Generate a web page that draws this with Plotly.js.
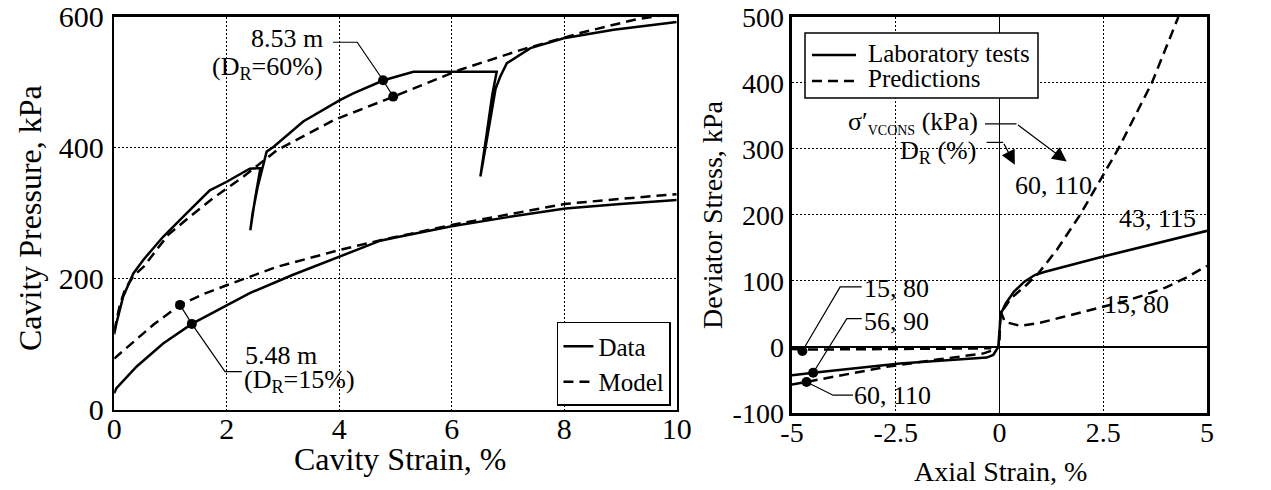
<!DOCTYPE html>
<html>
<head>
<meta charset="utf-8">
<script src="https://cdn.plot.ly/plotly-3.0.1.min.js"></script>
<style>html,body{margin:0;padding:0;background:#fff;}#chart{width:1271px;height:490px;}</style>
</head>
<body>
<div id="chart"></div>
<script>
// ---------- Left panel: cavity expansion ----------
const leftXTicks = [0, 2, 4, 6, 8, 10];
const leftYTicks = [0, 200, 400, 600];

// 8.53 m (DR = 60%) - data (with unload/reload loops)
const denseDataStrain   = [0, 0.04, 0.16, 0.34, 0.52, 0.87, 1.29, 1.70, 2.0, 2.41, 2.6, 2.5, 2.42, 2.46, 2.55, 2.64, 2.71, 2.83, 3.36, 4.02, 4.25, 4.79, 5.32, 6.80, 6.72, 6.62, 6.51, 6.56, 6.66, 6.78, 6.86, 6.98, 7.40, 7.99, 8.88, 10];
const denseDataPressure = [115, 132, 173, 208, 229, 264, 300, 335, 348, 368, 369, 320, 274, 300, 340, 372, 394, 401, 440, 473, 483, 503, 516, 516, 480, 420, 356, 380, 430, 490, 508, 529, 552, 567, 580, 592];
// 8.53 m - model
const denseModelStrain   = [0, 0.1, 0.2, 0.35, 0.52, 0.96, 1.35, 1.76, 2.30, 2.89, 3.9, 4.97, 6.15, 7.22, 8.28, 9.23, 10];
const denseModelPressure = [120, 160, 185, 205, 218, 267, 295, 323, 356, 396, 442, 478, 519, 549, 575, 595, 606];
// 5.48 m (DR = 15%) - data
const looseDataStrain   = [0, 0.04, 0.4, 0.87, 1.38, 2.0, 2.41, 3.18, 4.01, 4.73, 5.0, 6.0, 7.0, 8.02, 9.0, 10];
const looseDataPressure = [25, 33, 66, 101, 131, 160, 178, 206, 234, 258, 263, 280, 294, 307, 314, 320];
// 5.48 m - model
const looseModelStrain   = [0, 0.3, 0.7, 1.17, 1.6, 2.0, 2.89, 4.01, 4.8, 6.0, 7.0, 8.0, 9.0, 10];
const looseModelPressure = [78, 100, 130, 160, 177, 190, 218, 244, 260, 282, 298, 314, 322, 329];
// highlighted points
const leftPointStrain   = [4.78, 4.96, 1.17, 1.38];
const leftPointPressure = [503, 478, 160, 131];

// ---------- Right panel: triaxial tests ----------
const rightXTicks = [-5, -2.5, 0, 2.5, 5];
const rightXTickText = ['-5', '-2.5', '0', '2.5', '5'];
const rightYTicks = [-100, 0, 100, 200, 300, 400, 500];
const rightYTickText = ['-100', '0', '100', '200', '300', '400', '500'];

// Laboratory tests
const lab56Strain = [-5, -4.49, -2.4, -1.0, -0.31, -0.15, -0.08, -0.03];
const lab56Stress = [-43, -39, -25, -19, -16, -12, -6, 0];
const lab43Strain = [-0.03, 0, 0.03, 0.15, 0.35, 0.6, 0.85, 1.1, 2.5, 5];
const lab43Stress = [0, 25, 50, 66, 84, 99, 109, 114, 137, 176];
// Predictions
const pred15ExtStrain = [-5, -4.75, -2.5, -0.4, -0.2];
const pred15ExtStress = [-3, -4, -3, -3, -2];
const pred15CompStrain = [0.02, 0.13, 0.5, 1.0, 1.5, 2.0, 2.5, 3.0, 3.5, 4.0, 4.5, 5];
const pred15CompStress = [55, 38, 32, 37, 45, 53, 61, 69, 79, 90, 105, 123];
const pred60ExtStrain = [-5, -4.65, -2.72, -1.5, -0.4, -0.16, -0.05];
const pred60ExtStress = [-57, -53, -30, -19, -10, -5, 0];
const pred60CompStrain = [0, 0.02, 0.28, 0.65, 0.94, 1.38, 1.94, 2.86, 3.67, 4.31];
const pred60CompStress = [10, 50, 74, 94, 112, 147, 200, 300, 400, 500];
// highlighted points
const rightPointStrain = [-4.75, -4.49, -4.65];
const rightPointStress = [-6, -39, -53];

const FONT = 'Liberation Serif, Times New Roman, serif';
const solid = {color: '#000', width: 2.5};
const dashed = {color: '#000', width: 2.5, dash: '10px,6px'};

const traces = [
  {x: denseDataStrain, y: denseDataPressure, mode: 'lines', line: solid, name: 'Data', xaxis: 'x', yaxis: 'y', legend: 'legend', legendgroup: 'd'},
  {x: denseModelStrain, y: denseModelPressure, mode: 'lines', line: dashed, name: 'Model', xaxis: 'x', yaxis: 'y', legend: 'legend', legendgroup: 'm'},
  {x: looseDataStrain, y: looseDataPressure, mode: 'lines', line: solid, name: 'Data', xaxis: 'x', yaxis: 'y', showlegend: false, legendgroup: 'd'},
  {x: looseModelStrain, y: looseModelPressure, mode: 'lines', line: dashed, name: 'Model', xaxis: 'x', yaxis: 'y', showlegend: false, legendgroup: 'm'},
  {x: leftPointStrain, y: leftPointPressure, mode: 'markers', marker: {color: '#000', size: 10}, xaxis: 'x', yaxis: 'y', showlegend: false},

  {x: lab56Strain, y: lab56Stress, mode: 'lines', line: solid, name: 'Laboratory tests', xaxis: 'x2', yaxis: 'y2', showlegend: false},
  {x: lab43Strain, y: lab43Stress, mode: 'lines', line: solid, name: 'Laboratory tests', xaxis: 'x2', yaxis: 'y2', showlegend: false},
  {x: pred15ExtStrain, y: pred15ExtStress, mode: 'lines', line: dashed, name: 'Predictions', xaxis: 'x2', yaxis: 'y2', showlegend: false},
  {x: pred15CompStrain, y: pred15CompStress, mode: 'lines', line: dashed, name: 'Predictions', xaxis: 'x2', yaxis: 'y2', showlegend: false},
  {x: pred60ExtStrain, y: pred60ExtStress, mode: 'lines', line: dashed, name: 'Predictions', xaxis: 'x2', yaxis: 'y2', showlegend: false},
  {x: pred60CompStrain, y: pred60CompStress, mode: 'lines', line: dashed, name: 'Predictions', xaxis: 'x2', yaxis: 'y2', showlegend: false},
  {x: rightPointStrain, y: rightPointStress, mode: 'markers', marker: {color: '#000', size: 10}, xaxis: 'x2', yaxis: 'y2', showlegend: false}
];

const axisCommon = {
  showline: true, mirror: true, linecolor: '#000', linewidth: 2.5,
  showgrid: true, gridcolor: '#000', gridwidth: 1, griddash: '2px,2px',
  ticks: '', zeroline: false, fixedrange: true
};
const tickL = {family: FONT, size: 30, color: '#000'};
const tickR = {family: FONT, size: 28, color: '#000'};

function path(pts, xr, yr, w) {
  return {type: 'path', xref: xr, yref: yr, line: {color: '#000', width: w || 1.2},
    path: pts.map((p, i) => (i ? 'L' : 'M') + p[0] + ',' + p[1]).join(' ')};
}
// pixel helpers for legend / title placement (paper coordinates)
const W = 1271, H = 490;
const px = v => v / W, py = v => 1 - v / H;

const annFont = {family: FONT, size: 26, color: '#000'};
function txt(x, y, text, xr, yr, anchor, size) {
  return {x: x, y: y, xref: xr, yref: yr, text: text, showarrow: false,
    font: size ? {family: FONT, size: size, color: '#000'} : annFont,
    xanchor: anchor || 'center', yanchor: 'middle'};
}

const layout = {
  width: W, height: H,
  margin: {l: 0, r: 0, t: 0, b: 0},
  paper_bgcolor: '#fff', plot_bgcolor: '#fff',
  font: {family: FONT, color: '#000'},
  showlegend: true,
  xaxis: Object.assign({}, axisCommon, {domain: [0.08985, 0.53242], range: [0, 10], tickvals: leftXTicks, anchor: 'y',
    tickfont: tickL, ticklabelstandoff: -9}),
  yaxis: Object.assign({}, axisCommon, {domain: [0.16388, 0.96592], range: [0, 600], tickvals: leftYTicks, anchor: 'x',
    tickfont: tickL, ticklabelstandoff: 2}),
  xaxis2: Object.assign({}, axisCommon, {domain: [0.62313, 0.94965], range: [-5, 5], tickvals: rightXTicks, ticktext: rightXTickText, anchor: 'y2',
    tickfont: tickR, ticklabelstandoff: -7, zeroline: true, zerolinecolor: '#000', zerolinewidth: 1.2}),
  yaxis2: Object.assign({}, axisCommon, {domain: [0.15714, 0.96531], range: [-100, 500], tickvals: rightYTicks, ticktext: rightYTickText, anchor: 'x2',
    tickfont: tickR, ticklabelstandoff: 0, zeroline: true, zerolinecolor: '#000', zerolinewidth: 1.2}),
  legend: {x: 0.4382, y: 0.3429, xanchor: 'left', yanchor: 'top', bgcolor: '#fff', bordercolor: '#000', borderwidth: 1.5,
    font: {family: FONT, size: 25, color: '#000'}, tracegroupgap: 0, itemclick: false, itemdoubleclick: false},
  shapes: [
    // leader lines
    path([[3.89, 561], [4.32, 561], [4.78, 503], [4.96, 478]], 'x', 'y'),
    path([[1.17, 160], [1.38, 131], [1.97, 58], [2.27, 58]], 'x', 'y'),
    path([[-0.35, 338], [0.41, 338]], 'x2', 'y2'),
    path([[-0.31, 310], [0.09, 310]], 'x2', 'y2'),
    path([[-3.32, 91], [-3.84, 91], [-4.75, -6]], 'x2', 'y2'),
    path([[-3.32, 43], [-3.68, 43], [-4.49, -39]], 'x2', 'y2'),
    path([[-4.65, -53], [-4.01, -73], [-3.53, -73]], 'x2', 'y2'),
    // right-panel key box
    {type: 'rect', xref: 'paper', yref: 'paper', x0: px(805), x1: px(1038), y0: py(98), y1: py(33),
      line: {color: '#000', width: 1.5}, fillcolor: '#fff', layer: 'above'},
    {type: 'line', xref: 'paper', yref: 'paper', x0: px(812), x1: px(856), y0: py(55), y1: py(55), line: {color: '#000', width: 2.5}, layer: 'above'},
    {type: 'line', xref: 'paper', yref: 'paper', x0: px(812), x1: px(856), y0: py(81), y1: py(81), line: {color: '#000', width: 2.5, dash: '10px,6px'}, layer: 'above'}
  ],
  annotations: [
    // axis titles
    {x: px(400), y: py(459), xref: 'paper', yref: 'paper', text: 'Cavity Strain, %', showarrow: false, font: {family: FONT, size: 32, color: '#000'}, xanchor: 'center', yanchor: 'middle'},
    {x: px(30), y: py(218), xref: 'paper', yref: 'paper', text: 'Cavity Pressure, kPa', textangle: -90, showarrow: false, font: {family: FONT, size: 32, color: '#000'}, xanchor: 'center', yanchor: 'middle'},
    {x: px(1000), y: py(471), xref: 'paper', yref: 'paper', text: 'Axial Strain, %', showarrow: false, font: {family: FONT, size: 28, color: '#000'}, xanchor: 'center', yanchor: 'middle'},
    {x: px(713), y: py(215), xref: 'paper', yref: 'paper', text: 'Deviator Stress, kPa', textangle: -90, showarrow: false, font: {family: FONT, size: 28, color: '#000'}, xanchor: 'center', yanchor: 'middle'},
    // right-panel key text
    {x: px(866), y: py(54), xref: 'paper', yref: 'paper', text: 'Laboratory tests', showarrow: false, font: {family: FONT, size: 25, color: '#000'}, xanchor: 'left', yanchor: 'middle'},
    {x: px(866), y: py(79), xref: 'paper', yref: 'paper', text: 'Predictions', showarrow: false, font: {family: FONT, size: 25, color: '#000'}, xanchor: 'left', yanchor: 'middle'},
    // labels
    txt(3.75, 567, '8.53 m', 'x', 'y', 'right'),
    txt(3.75, 522, '(D<sub>R</sub>=60%)', 'x', 'y', 'right'),
    txt(2.29, 82, '5.48 m', 'x', 'y', 'left'),
    txt(2.27, 44, '(D<sub>R</sub>=15%)', 'x', 'y', 'left'),
    txt(-0.47, 340, 'σ′<sub><span style="font-size:14px">VCONS</span></sub> (kPa)', 'x2', 'y2', 'right'),
    txt(-0.52, 296, 'D<sub>R</sub> (%)', 'x2', 'y2', 'right'),
    txt(1.29, 245, '60, 110', 'x2', 'y2'),
    txt(3.8, 195, '43, 115', 'x2', 'y2'),
    txt(3.31, 64, '15, 80', 'x2', 'y2'),
    txt(-2.47, 89, '15, 80', 'x2', 'y2'),
    txt(-2.47, 38, '56, 90', 'x2', 'y2'),
    txt(-2.57, -73, '60, 110', 'x2', 'y2'),
    {x: 1.62, y: 281, ax: 0.41, ay: 338, xref: 'x2', yref: 'y2', axref: 'x2', ayref: 'y2', text: '', showarrow: true,
      arrowhead: 2, arrowsize: 2.4, arrowwidth: 1.2, arrowcolor: '#000', standoff: 0},
    {x: 0.37, y: 276, ax: 0.09, ay: 310, xref: 'x2', yref: 'y2', axref: 'x2', ayref: 'y2', text: '', showarrow: true,
      arrowhead: 2, arrowsize: 2.4, arrowwidth: 1.2, arrowcolor: '#000', standoff: 0}
  ]
};

Plotly.newPlot('chart', traces, layout, {staticPlot: true, displayModeBar: false});
</script>
</body>
</html>
